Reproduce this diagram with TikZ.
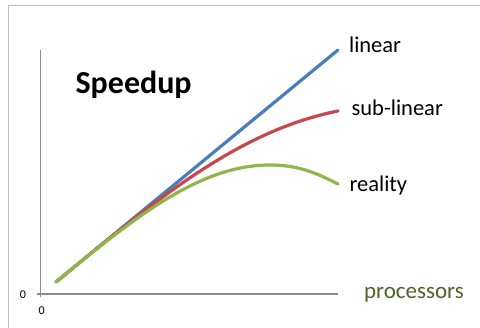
\documentclass[tikz,border=0pt]{standalone}
\usepackage{fontspec}
\setmainfont{Carlito}
\usetikzlibrary{positioning}
\definecolor{linblue}{HTML}{4A7EBB}
\definecolor{subred}{HTML}{C8474D}
\definecolor{realgreen}{HTML}{8DB849}
\definecolor{procgreen}{HTML}{4F6228}
\definecolor{axisgray}{HTML}{8C8C8C}
\definecolor{framegray}{HTML}{BDBDBD}

\begin{document}
\begin{tikzpicture}[x=1pt,y=-1pt,line width=3.2pt,line cap=round,
  curvelbl/.style={anchor=base west,inner sep=0pt,font=\fontsize{22.5}{27}\selectfont},
  ticklbl/.style={anchor=base,inner sep=0pt,font=\fontsize{12}{14}\selectfont},
  axisline/.style={draw=axisgray,line width=1.2pt,line cap=butt}]

  \useasboundingbox (0,0) rectangle (480,328);
  \draw[framegray,line width=1pt,line cap=butt] (8,328) -- (8,6) -- (480,6);

  % axes
  \coordinate (ytop) at (40.7,50);
  \coordinate (ybot) at (40.7,297);
  \coordinate (xleft) at (37,294);
  \coordinate (xright) at (338,294);
  \draw[axisline] (ytop) -- (ybot);
  \draw[axisline] (xleft) -- (xright);

  % curves
  \coordinate (start) at (56,282);
  \coordinate (linend) at (338,50);
  \coordinate (subend) at (338,111);
  \coordinate (peak) at (270,165);
  \coordinate (realend) at (338,184);
  \draw[linblue] (start) -- (linend);
  \draw[subred] (start) .. controls (156,199.7) and (238,131) .. (subend);
  \draw[realgreen] (start) .. controls (136,216.2) and (200,165) .. (peak)
    .. controls (300,165) and (318,174) .. (realend);

  % labels
  \node[anchor=base west,inner sep=0pt,font=\fontsize{32}{38}\selectfont\bfseries] (title) at (74,94) {Speedup};
  \node[curvelbl] (linlbl) at (347.5,52.7) {linear};
  \node[curvelbl] (sublbl) at (350,116) {sub-linear};
  \node[curvelbl] (reallbl) at (348,191.7) {reality};
  \node[curvelbl,font=\fontsize{23}{27}\selectfont,text=procgreen] (proclbl) at (362.5,298.3) {processors};
  \node[ticklbl] (yzero) at (22.8,298.3) {0};
  \node[ticklbl] (xzero) at (41.7,314.3) {0};

\end{tikzpicture}
\end{document}
